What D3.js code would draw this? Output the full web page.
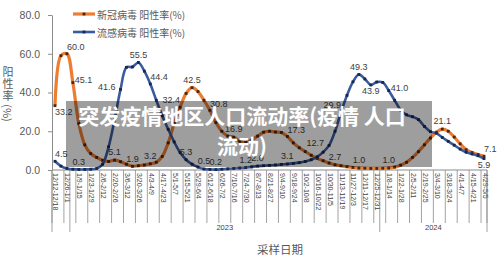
<!DOCTYPE html>
<html>
<head>
<meta charset="utf-8">
<script src="https://cdn.jsdelivr.net/npm/d3@7"></script>
<style>
  body { margin: 0; background: #fff; }
  svg { display: block; font-family: "Liberation Sans", Arial, sans-serif; }
</style>
</head>
<body>
<div id="chart"></div>
<script>
'use strict';

// weekly sampling periods, grouped by year
const weeks2022 = ['12/12-12/18', '12/19-12/25', '12/26-1/1'];
const weeks2023 = ['1/2-1/8', '1/9-1/15', '1/16-1/22', '1/23-1/29', '1/30-2/5', '2/6-2/12', '2/13-2/19', '2/20-2/26',
    '2/27-3/5', '3/6-3/12', '3/13-3/19', '3/20-3/26', '3/27-4/2', '4/3-4/9', '4/10-4/16', '4/17-4/23', '4/24-4/30',
    '5/1-5/7', '5/8-5/14', '5/15-5/21', '5/22-5/28', '5/29-6/4', '6/5-6/11', '6/12-6/18', '6/19-6/25', '6/26-7/2',
    '7/3-7/9', '7/10-7/16', '7/17-7/23', '7/24-7/30', '7/31-8/6', '8/7-8/13', '8/14-8/20', '8/21-8/27', '8/28-9/3',
    '9/4-9/10', '9/11-9/17', '9/18-9/24', '9/25-10/1', '10/2-10/8', '10/9-10/15', '10/16-10/22', '10/23-10/29',
    '10/30-11/5', '11/6-11/12', '11/13-11/19', '11/20-11/26', '11/27-12/3', '12/4-12/10', '12/11-12/17',
    '12/18-12/24', '12/25-12/31'];
const weeks2024 = ['1/1-1/7', '1/8-1/14', '1/15-1/21', '1/22-1/28', '1/29-2/4', '2/5-2/11', '2/12-2/18', '2/19-2/25',
    '2/26-3/3', '3/4-3/10', '3/11-3/17', '3/18-3/24', '3/25-3/31', '4/1-4/7', '4/8-4/14', '4/15-4/21', '4/22-4/28',
    '4/29-5/5'];
const years = ['2022', '2023', '2024'];

// 新冠病毒 阳性率(%)
const covid = [33.2, 59.0, 60.0, 45.1, 24.0, 13.0, 8.5, 6.5, 5.0, 4.4, 5.1, 4.3, 3.0, 1.9, 2.2, 2.6, 3.2, 4.0, 7.0,
    14.0, 24.0, 32.4, 39.5, 42.5, 40.5, 36.0, 30.8, 24.5, 20.0, 17.5, 16.9, 14.8, 14.2, 15.5, 17.5, 19.5, 20.0, 19.6,
    19.4, 17.3, 14.0, 11.5, 9.5, 7.6, 6.0, 4.8, 3.6, 2.7, 2.2, 1.7, 1.3, 1.0, 0.9, 0.8, 0.8, 0.9, 1.0, 1.5, 2.5, 4.0,
    6.5, 9.5, 13.0, 16.5, 19.5, 21.1, 20.0, 17.0, 13.5, 10.5, 9.0, 8.0, 7.1];
// 流感病毒 阳性率(%)
const flu = [4.5, 2.0, 0.8, 0.4, 0.3, 0.3, 0.4, 0.8, 3.0, 12.0, 26.0, 41.6, 53.0, 53.2, 55.5, 51.0, 44.4, 36.0, 28.0,
    21.0, 14.5, 9.0, 5.3, 3.0, 1.5, 0.5, 0.3, 0.2, 0.4, 0.6, 0.8, 1.0, 1.2, 1.6, 2.0, 2.2, 2.4, 2.6, 2.9, 3.1, 3.4,
    3.8, 4.4, 5.3, 6.8, 9.2, 12.7, 20.0, 29.9, 38.5, 45.5, 49.3, 47.0, 43.9, 45.4, 45.2, 41.0, 36.0, 31.0, 28.5, 27.5,
    26.0, 22.5, 19.8, 19.0, 16.8, 14.8, 12.8, 10.8, 9.2, 8.3, 7.4, 5.9];

// which points carry a value label
const covidLabelIdx = [0, 2, 3, 10, 13, 16, 21, 23, 26, 30, 39, 47, 51, 56, 65, 72];
const fluLabelIdx = [0, 4, 11, 14, 16, 22, 25, 27, 32, 34, 39, 46, 48, 51, 53, 56, 72];
const covidLabelPos = ['br', 'ar', 'r', 'a', 'a', 'a', 'al', 'a', 'ar', 'a', 'ar', 'a', 'a', 'a', 'a', 'ar'];
const fluLabelPos = ['ar', 'a', 'l', 'a', 'ar', 'a', 'a', 'a', 'a', 'a', 'a', 'l', 'al', 'a', 'b', 'r', 'b'];

const yTicks = [0, 20, 40, 60, 80];
const seriesNames = ['新冠病毒 阳性率(%)', '流感病毒 阳性率(%)'];
const overlayLines = ['突发疫情地区人口流动率(疫情 人口', '流动)'];

const width = 500;
const height = 269;
const plot = { left: 52, right: 487, top: 15, bottom: 170 };
const axisColor = '#8c8c8c';
const textColor = '#595959';

const allWeeks = weeks2022.concat(weeks2023, weeks2024);
const yearGroups = [weeks2022, weeks2023, weeks2024];

const svg = d3.select('#chart').append('svg').attr('width', width).attr('height', height);

const x = d3.scaleBand().domain(allWeeks).range([plot.left, plot.right]);
const y = d3.scaleLinear().domain([0, 80]).range([plot.bottom, plot.top]);
const cx = i => x(allWeeks[i]) + x.bandwidth() / 2;

/* -- y axis ------------------------------------------------------------ */
const yAxis = svg.append('g')
    .attr('transform', `translate(${plot.left},0)`)
    .call(d3.axisLeft(y).tickValues(yTicks).tickSize(4).tickSizeOuter(0).tickPadding(8).tickFormat(d3.format('.1f')));
yAxis.select('.domain').attr('stroke', axisColor);
yAxis.selectAll('.tick line').attr('stroke', axisColor);
yAxis.selectAll('.tick text').attr('fill', textColor).style('font-size', '10.5px')
    .style('font-family', '"Liberation Sans", Arial, sans-serif');

// y title: stacked characters, (%) turned
const yTitle = svg.append('g').attr('fill', textColor).style('font-family', '"Noto Sans CJK SC", sans-serif')
    .style('font-size', '11px').attr('text-anchor', 'middle');
['阳', '性', '率'].forEach((c, i) => {
    yTitle.append('text').attr('x', 8).attr('y', 76 + i * 12).text(c);
});
yTitle.append('text').attr('transform', 'translate(8,113) rotate(90)')
    .attr('dominant-baseline', 'central').text('(%)');

/* -- x axis: weekly categories, label every 2nd, year groups -------------- */
const xAxis = svg.append('g');
xAxis.append('line')
    .attr('x1', plot.left).attr('x2', plot.right).attr('y1', plot.bottom).attr('y2', plot.bottom)
    .attr('stroke', axisColor);

const tickIdx = d3.range(0, allWeeks.length, 2);
xAxis.selectAll('.xtick').data(tickIdx.concat([allWeeks.length]))
    .enter().append('line')
    .attr('class', 'xtick')
    .attr('x1', i => i < allWeeks.length ? x(allWeeks[i]) : plot.right)
    .attr('x2', i => i < allWeeks.length ? x(allWeeks[i]) : plot.right)
    .attr('y1', plot.bottom).attr('y2', 223)
    .attr('stroke', axisColor).attr('stroke-width', 0.8);

xAxis.selectAll('.xlabel').data(tickIdx)
    .enter().append('text')
    .attr('class', 'xlabel')
    .attr('transform', i => `translate(${cx(i) + 1},${plot.bottom + 3}) rotate(90)`)
    .attr('dominant-baseline', 'central')
    .attr('fill', '#404040')
    .style('font-size', '7px')
    .text(i => allWeeks[i]);

// year boundaries
const yearEdges = yearGroups.map(g => x(g[0])).concat([plot.right]);
xAxis.selectAll('.yline').data(yearEdges)
    .enter().append('line')
    .attr('class', 'yline')
    .attr('x1', d => d).attr('x2', d => d)
    .attr('y1', plot.bottom).attr('y2', 232)
    .attr('stroke', axisColor).attr('stroke-width', 0.8);

xAxis.selectAll('.ylabel').data(years)
    .enter().append('text')
    .attr('class', 'ylabel')
    .attr('x', (d, i) => (yearEdges[i] + yearEdges[i + 1]) / 2)
    .attr('y', 230)
    .attr('text-anchor', 'middle')
    .attr('fill', '#404040')
    .style('font-size', '7.5px')
    .text((d, i) => (yearEdges[i + 1] - yearEdges[i] > 30 ? d : ''));

svg.append('text')
    .attr('x', 280).attr('y', 254)
    .attr('text-anchor', 'middle')
    .attr('fill', textColor)
    .style('font-family', '"Noto Sans CJK SC", sans-serif')
    .style('font-size', '11.5px')
    .text('采样日期');

/* -- series ------------------------------------------------------------ */
const series = [
    { name: seriesNames[0], values: covid, color: '#ED7D31', marker: '#4a2712', width: 3.2, idx: covidLabelIdx, pos: covidLabelPos },
    { name: seriesNames[1], values: flu, color: '#3A5BA0', marker: '#1a2848', width: 2.6, idx: fluLabelIdx, pos: fluLabelPos }
];

const path = d3.line()
    .x((d, i) => cx(i))
    .y(d => y(d))
    .curve(d3.curveCatmullRom.alpha(0.5));

series.forEach(s => {
    const g = svg.append('g');
    g.append('path')
        .attr('d', path(s.values))
        .attr('fill', 'none')
        .attr('stroke', s.color)
        .attr('stroke-width', s.width)
        .attr('stroke-linejoin', 'round');
    g.selectAll('rect').data(s.values)
        .enter().append('rect')
        .attr('x', (d, i) => cx(i) - 1.4)
        .attr('y', d => y(d) - 1.4)
        .attr('width', 2.8).attr('height', 2.8)
        .attr('fill', s.marker);
});

// value labels
const place = {
    a: { dx: 0, dy: -4.8, anchor: 'middle' },
    b: { dx: 0, dy: 9.5, anchor: 'middle' },
    l: { dx: -5, dy: 1, anchor: 'end' },
    r: { dx: 2, dy: 0, anchor: 'start' },
    ar: { dx: 0, dy: -3.8, anchor: 'start' },
    al: { dx: 0, dy: -3.8, anchor: 'end' },
    br: { dx: 0, dy: 9.5, anchor: 'start' }
};
series.forEach(s => {
    svg.append('g').selectAll('text').data(s.idx)
        .enter().append('text')
        .attr('x', (i, k) => cx(i) + place[s.pos[k]].dx)
        .attr('y', (i, k) => y(s.values[i]) + place[s.pos[k]].dy)
        .attr('text-anchor', (i, k) => place[s.pos[k]].anchor)
        .attr('fill', '#404040')
        .style('font-size', '9px')
        .text(i => s.values[i].toFixed(1));
});

/* -- legend ------------------------------------------------------------ */
const legend = svg.append('g').attr('transform', 'translate(73,14)');
const legendItem = legend.selectAll('g').data(series)
    .enter().append('g')
    .attr('transform', (d, i) => `translate(0,${i * 18})`);
legendItem.append('line')
    .attr('x1', 0).attr('x2', 22).attr('y1', 0).attr('y2', 0)
    .attr('stroke', d => d.color).attr('stroke-width', d => d.width);
legendItem.append('rect')
    .attr('x', 9.6).attr('y', -1.4).attr('width', 2.8).attr('height', 2.8)
    .attr('fill', d => d.marker);
legendItem.append('text')
    .attr('x', 24).attr('y', 0)
    .attr('dominant-baseline', 'central')
    .attr('fill', textColor)
    .style('font-family', '"Noto Sans CJK SC", sans-serif')
    .style('font-size', '10px')
    .text(d => d.name);

/* -- overlay banner ---------------------------------------------------- */
const banner = svg.append('g');
banner.append('rect')
    .attr('x', 66).attr('y', 101).attr('width', 366).attr('height', 66)
    .attr('fill', 'rgba(0,0,0,0.38)');
banner.selectAll('text').data(overlayLines)
    .enter().append('text')
    .attr('x', 242)
    .attr('y', (d, i) => 124 + i * 30)
    .attr('text-anchor', 'middle')
    .attr('fill', '#fff')
    .style('font-family', '"Noto Sans CJK SC", sans-serif')
    .style('font-weight', 'bold')
    .style('font-size', '21px')
    .text(d => d);
</script>
</body>
</html>
